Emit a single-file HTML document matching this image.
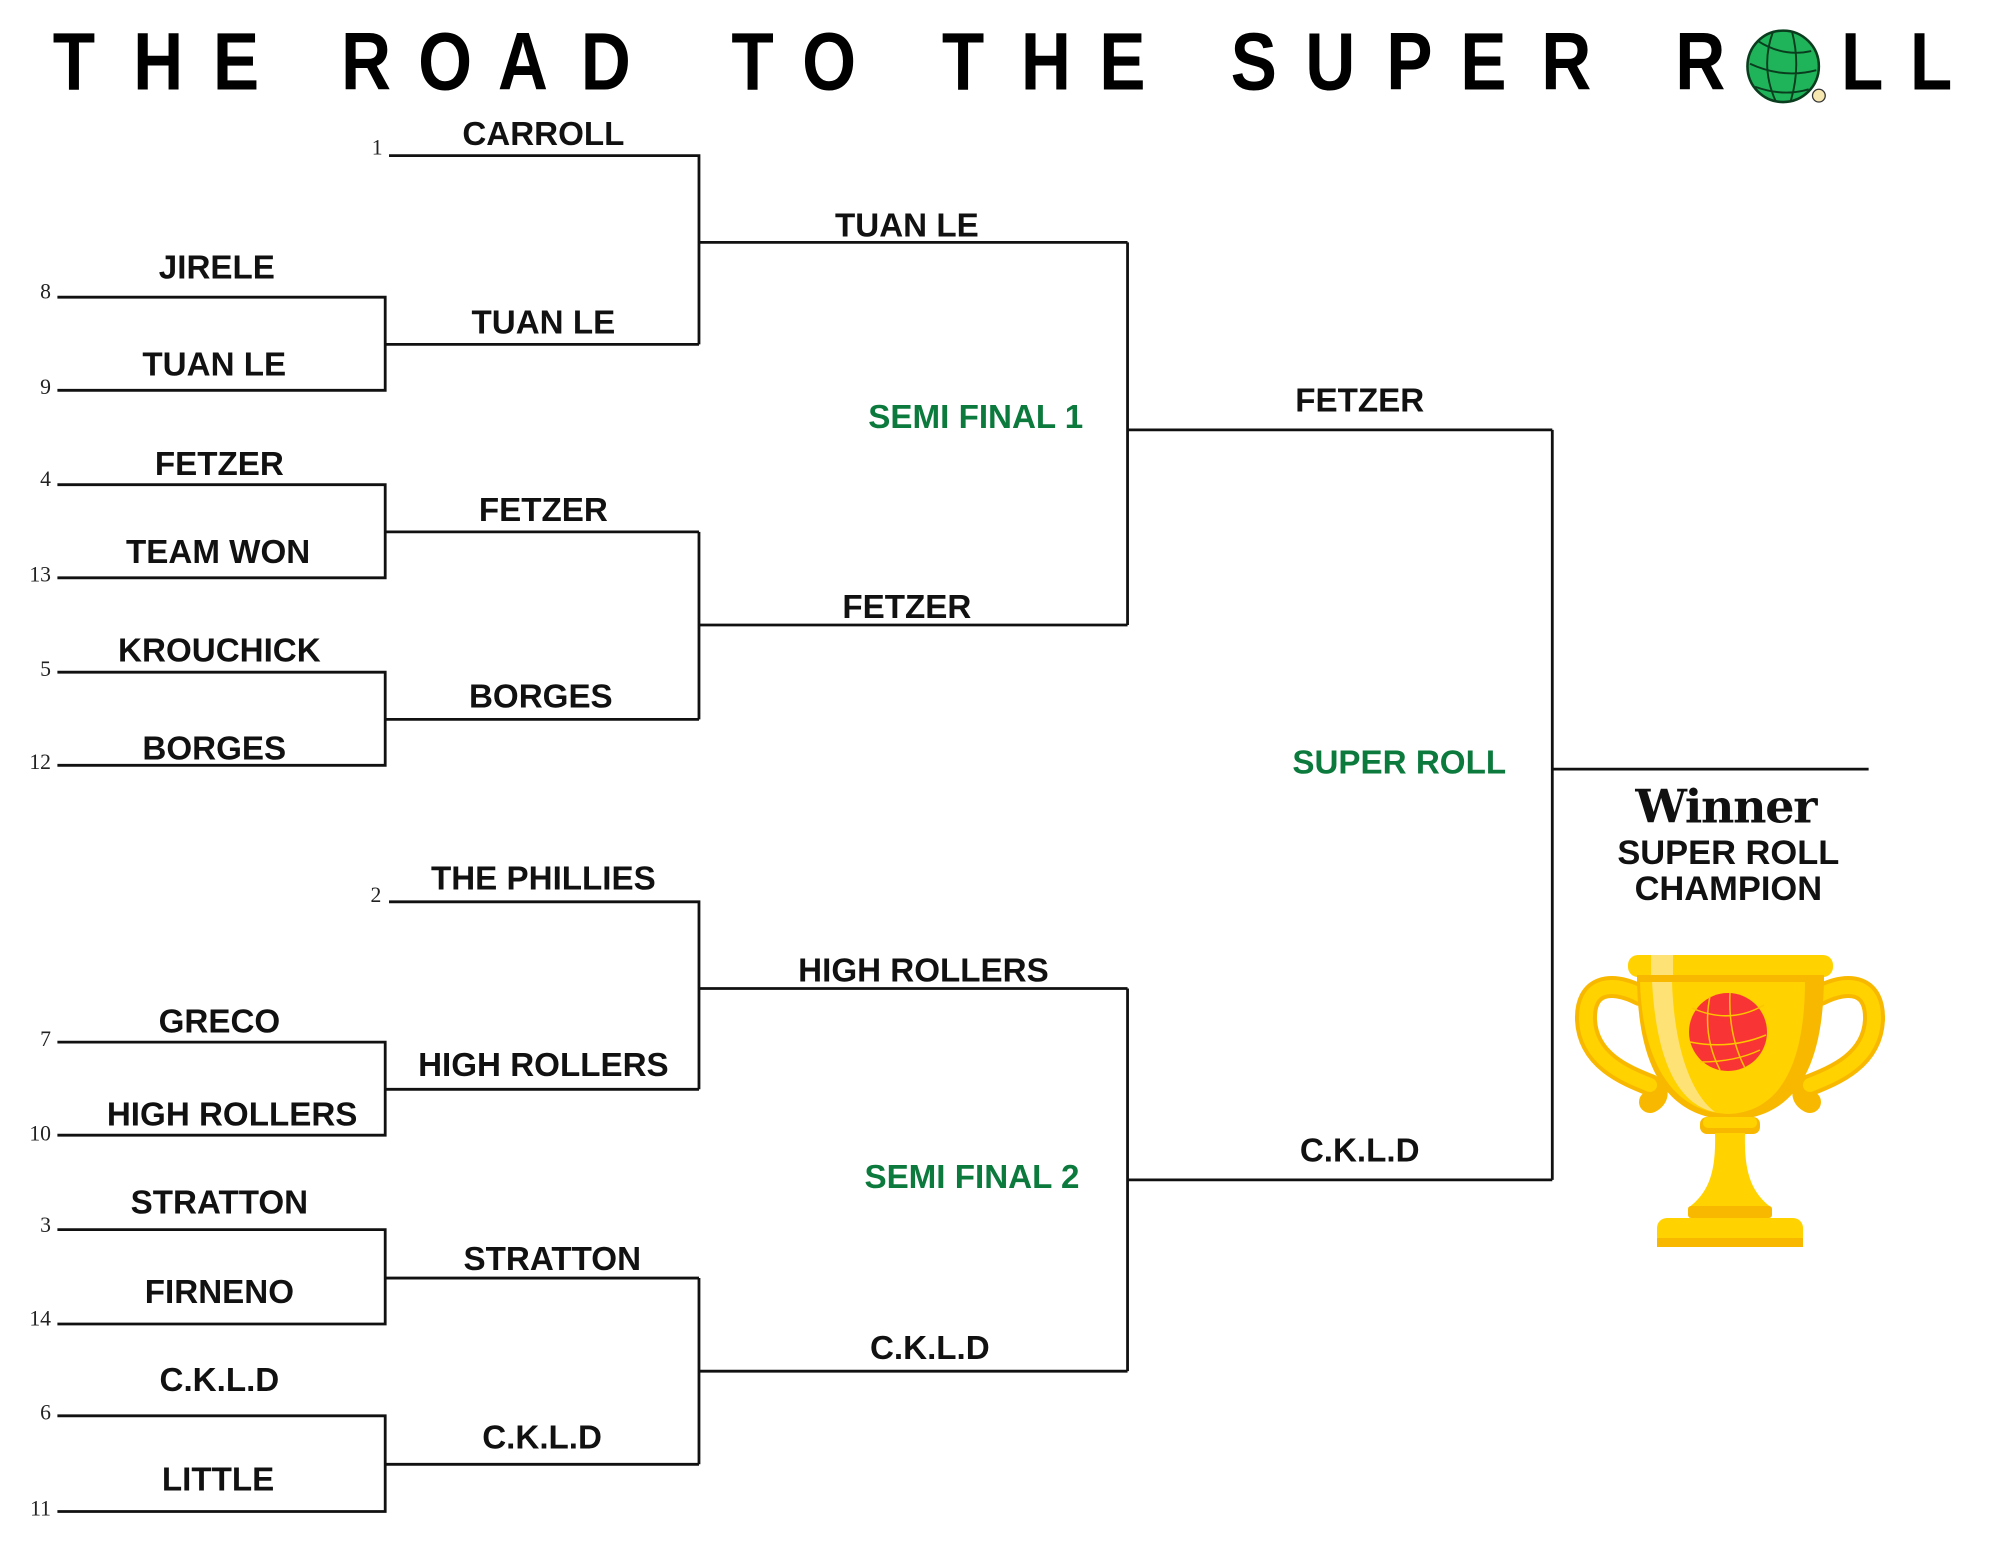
<!DOCTYPE html>
<html><head><meta charset="utf-8">
<style>
html,body{margin:0;padding:0;background:#fff;}
body{width:2000px;height:1545px;position:relative;overflow:hidden;}
#c{position:absolute;left:0;top:0;width:1568px;height:1211px;transform:scale(1.27551);transform-origin:0 0;}
.l{position:absolute;transform:translate(-50%,-50%);font-family:"Liberation Sans",sans-serif;font-weight:bold;font-size:26px;white-space:nowrap;color:#111;}
.g{color:#0b7a3c;font-size:26px;}
.s{position:absolute;transform:translate(-100%,-50%);font-family:"Liberation Serif",serif;font-size:17px;color:#222;}
.t{position:absolute;top:16px;font-family:"Liberation Sans",sans-serif;font-weight:bold;font-size:64px;line-height:64px;color:#000;transform:translate(-50%,0) scaleX(0.85);}
</style></head><body>
<div id="c">
<svg width="1568" height="1211" style="position:absolute;left:0;top:0" fill="none" stroke="#111" stroke-width="2.2">
<path d="M45,233H302V306H45M302,270H548"/>
<path d="M45,380H302V453H45M302,417H548"/>
<path d="M45,527H302V600H45M302,564H548"/>
<path d="M45,817H302V890H45M302,854H548"/>
<path d="M45,964H302V1038H45M302,1002H548"/>
<path d="M45,1110H302V1185H45M302,1148H548"/>
<path d="M305,122H548V270M548,190H884"/>
<path d="M548,417V564M548,490H884"/>
<path d="M884,190V490M884,337H1217"/>
<path d="M305,707H548V854M548,775H884"/>
<path d="M548,1002V1148M548,1075H884"/>
<path d="M884,775V1075M884,925H1217"/>
<path d="M1217,337V925M1217,603H1465"/>
<circle cx="1398" cy="52" r="28" fill="#1fb45a" stroke="#0a3d1e" stroke-width="2"/>
<path d="M1378,32Q1398,45 1420,40M1372,50Q1398,62 1424,55M1376,68Q1398,76 1418,70M1390,25Q1380,52 1392,79M1405,25Q1412,52 1404,79" stroke="#0a3d1e" stroke-width="1.5"/>
<circle cx="1426" cy="75" r="5" fill="#f6e7b0" stroke="#333" stroke-width="1"/>
</svg>
<span class="t" style="left:58px">T</span><span class="t" style="left:124px">H</span><span class="t" style="left:185px">E</span>
<span class="t" style="left:287px">R</span><span class="t" style="left:349px">O</span><span class="t" style="left:410px">A</span><span class="t" style="left:475px">D</span>
<span class="t" style="left:590px">T</span><span class="t" style="left:650px">O</span>
<span class="t" style="left:755px">T</span><span class="t" style="left:820px">H</span><span class="t" style="left:880px">E</span>
<span class="t" style="left:983px">S</span><span class="t" style="left:1043px">U</span><span class="t" style="left:1105px">P</span><span class="t" style="left:1163px">E</span><span class="t" style="left:1228px">R</span>
<span class="t" style="left:1333px">R</span><span class="t" style="left:1460px">L</span><span class="t" style="left:1514px">L</span>

<span class="l" style="left:426px;top:105px">CARROLL</span>
<span class="l" style="left:170px;top:210px">JIRELE</span>
<span class="l" style="left:168px;top:286px">TUAN LE</span>
<span class="l" style="left:426px;top:253px">TUAN LE</span>
<span class="l" style="left:711px;top:177px">TUAN LE</span>
<span class="l" style="left:172px;top:364px">FETZER</span>
<span class="l" style="left:171px;top:433px">TEAM WON</span>
<span class="l" style="left:426px;top:400px">FETZER</span>
<span class="l" style="left:711px;top:476px">FETZER</span>
<span class="l" style="left:172px;top:510px">KROUCHICK</span>
<span class="l" style="left:168px;top:587px">BORGES</span>
<span class="l" style="left:424px;top:546px">BORGES</span>
<span class="l" style="left:1066px;top:314px">FETZER</span>
<span class="l" style="left:426px;top:689px">THE PHILLIES</span>
<span class="l" style="left:172px;top:801px">GRECO</span>
<span class="l" style="left:182px;top:874px">HIGH ROLLERS</span>
<span class="l" style="left:426px;top:835px">HIGH ROLLERS</span>
<span class="l" style="left:724px;top:761px">HIGH ROLLERS</span>
<span class="l" style="left:172px;top:943px">STRATTON</span>
<span class="l" style="left:172px;top:1013px">FIRNENO</span>
<span class="l" style="left:433px;top:987px">STRATTON</span>
<span class="l" style="left:172px;top:1082px">C.K.L.D</span>
<span class="l" style="left:171px;top:1160px">LITTLE</span>
<span class="l" style="left:425px;top:1127px">C.K.L.D</span>
<span class="l" style="left:729px;top:1057px">C.K.L.D</span>
<span class="l" style="left:1066px;top:902px">C.K.L.D</span>
<span class="l g" style="left:765px;top:327px">SEMI FINAL 1</span>
<span class="l g" style="left:762px;top:923px">SEMI FINAL 2</span>
<span class="l g" style="left:1097px;top:598px">SUPER ROLL</span>

<span class="s" style="left:300px;top:116px">1</span>
<span class="s" style="left:40px;top:229px">8</span>
<span class="s" style="left:40px;top:304px">9</span>
<span class="s" style="left:40px;top:376px">4</span>
<span class="s" style="left:40px;top:451px">13</span>
<span class="s" style="left:40px;top:525px">5</span>
<span class="s" style="left:40px;top:598px">12</span>
<span class="s" style="left:299px;top:702px">2</span>
<span class="s" style="left:40px;top:815px">7</span>
<span class="s" style="left:40px;top:889px">10</span>
<span class="s" style="left:40px;top:961px">3</span>
<span class="s" style="left:40px;top:1034px">14</span>
<span class="s" style="left:40px;top:1108px">6</span>
<span class="s" style="left:40px;top:1183px">11</span>

<span class="l" style="left:1353px;top:633px;font-family:'DejaVu Serif',serif;font-size:36px;font-weight:900;letter-spacing:-1px">Winner</span>
<span class="l" style="left:1355px;top:669px;font-size:27px">SUPER ROLL</span>
<span class="l" style="left:1355px;top:697px;font-size:27px">CHAMPION</span>
</div>

<svg width="2000" height="1545" style="position:absolute;left:0;top:0">
<!-- handles -->
<g fill="none" stroke-linecap="round">
<path d="M1640,995 C1610,980 1585,985 1586,1020 C1588,1060 1625,1075 1650,1085 C1662,1092 1655,1100 1650,1102" stroke="#f9b800" stroke-width="22"/>
<path d="M1640,995 C1610,980 1585,985 1586,1020 C1588,1060 1625,1075 1650,1085" stroke="#ffd200" stroke-width="14"/>
<path d="M1820,995 C1850,980 1875,985 1874,1020 C1872,1060 1835,1075 1810,1085 C1798,1092 1805,1100 1810,1102" stroke="#f9b800" stroke-width="22"/>
<path d="M1820,995 C1850,980 1875,985 1874,1020 C1872,1060 1835,1075 1810,1085" stroke="#ffd200" stroke-width="14"/>
</g>
<!-- cup -->
<path d="M1637,975 H1824 C1824,1060 1800,1118 1731,1120 C1662,1118 1637,1060 1637,975 Z" fill="#f9b800"/>
<path d="M1640,981 H1805 C1805,1055 1785,1112 1728,1114 C1668,1112 1642,1055 1640,981 Z" fill="#ffd200"/>
<path d="M1652,981 H1672 C1674,1050 1692,1095 1715,1112 C1678,1105 1656,1060 1652,981 Z" fill="#ffe275"/>
<rect x="1628" y="955" width="205" height="22" rx="10" fill="#ffd200"/>
<rect x="1651" y="955" width="22" height="22" fill="#ffe275"/>
<rect x="1637" y="975" width="187" height="7" fill="#f9b800"/>
<!-- ball -->
<circle cx="1728" cy="1032" r="39" fill="#f93434"/>
<g fill="none" stroke="#ffc400" stroke-width="1.5">
<path d="M1692,1008 Q1730,1025 1764,1005"/><path d="M1690,1042 Q1730,1050 1766,1035"/><path d="M1700,1062 Q1735,1062 1760,1050"/>
<path d="M1710,996 Q1702,1035 1720,1070"/><path d="M1730,993 Q1728,1035 1745,1068"/>
</g>
<!-- stem -->
<rect x="1700" y="1117" width="60" height="17" rx="7" fill="#f9b800"/>
<rect x="1703" y="1117" width="54" height="11" rx="5" fill="#ffd200"/>
<path d="M1715,1133 H1745 C1744,1170 1750,1192 1772,1208 H1688 C1710,1192 1716,1170 1715,1133 Z" fill="#ffd200"/>
<rect x="1688" y="1206" width="84" height="12" rx="3" fill="#f9b800"/>
<rect x="1657" y="1218" width="146" height="29" rx="10" fill="#ffd200"/>
<rect x="1657" y="1238" width="146" height="9" fill="#f9b800"/>
</svg>
</body></html>
